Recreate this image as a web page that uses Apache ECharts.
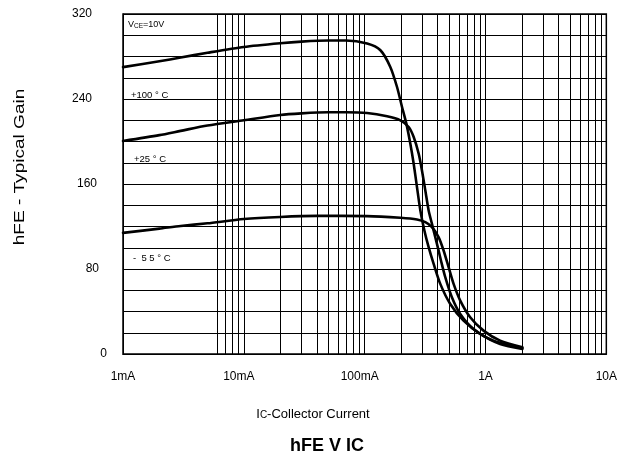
<!DOCTYPE html>
<html>
<head>
<meta charset="utf-8">
<script src="https://cdn.jsdelivr.net/npm/echarts@6/dist/echarts.min.js"></script>
<style>
html,body{margin:0;padding:0;background:#fff;}
#chart{width:620px;height:461px;}
</style>
</head>
<body>
<div id="chart"></div>
<script>
// ---- data ----
const xTickValues = [0.001, 0.01, 0.1, 1, 10];
const xTickLabels = ['1mA', '10mA', '100mA', '1A', '10A'];
const yTickLabels = [0, 80, 160, 240, 320];
const minorGridX = [0.006, 0.007, 0.008, 0.009,
  0.02, 0.03, 0.04, 0.05, 0.06, 0.07, 0.08, 0.09,
  0.2, 0.3, 0.4, 0.5, 0.6, 0.7, 0.8, 0.9,
  2, 3, 4, 5, 6, 7, 8, 9];

// +100 °C
const curr100 = [0.001, 0.002, 0.003, 0.005, 0.01, 0.02, 0.03, 0.05, 0.07, 0.1047, 0.135, 0.163, 0.1853, 0.2038, 0.2213, 0.2388, 0.2545, 0.271, 0.289, 0.312, 0.3384, 0.3723, 0.4225, 0.5108, 0.6583, 0.9036, 1.321, 2.02];
const hfe100  = [270, 275.5, 279, 283.5, 289, 292.5, 294, 295, 295, 292.2, 285.9, 270.2, 251.3, 232.5, 216.8, 197.9, 179.1, 157.1, 135.1, 116.2, 100.5, 84.8, 66, 47.1, 31.4, 18.9, 9.4, 4.7];

// +25 °C
const curr25 = [0.001, 0.002, 0.003, 0.005, 0.01, 0.02, 0.03, 0.05, 0.07, 0.1047, 0.1533, 0.1975, 0.2313, 0.2545, 0.28, 0.298, 0.3177, 0.3384, 0.3605, 0.3965, 0.428, 0.4645, 0.527, 0.618, 0.796, 1.164, 2.02];
const hfe25  = [200.5, 206, 210, 215, 220, 225, 226.5, 227.5, 227.5, 226.8, 223.7, 219.9, 213.6, 204.2, 188.5, 172.8, 153.9, 135.1, 122.5, 103.7, 88, 72.3, 53.4, 37.7, 23.6, 12.6, 5.7];

// -55 °C
const currM55 = [0.001, 0.002, 0.003, 0.005, 0.01, 0.02, 0.04, 0.1047, 0.1975, 0.271, 0.3177, 0.3605, 0.409, 0.45, 0.495, 0.5445, 0.618, 0.747, 0.963, 1.321, 2.02];
const hfeM55  = [114, 118, 120.5, 123, 127, 129, 130, 129.8, 128.2, 126.6, 124.1, 119.4, 110, 97.4, 81.7, 66, 50.3, 34.6, 22, 12.6, 6.3];

const seriesNames = ['+100 °C', '+25 °C', '-55 °C'];

function pairs(xs, ys) { return xs.map((x, i) => [x, ys[i]]); }

const FONT = '"Liberation Sans", Arial, sans-serif';
const chart = echarts.init(document.getElementById('chart'), null, {renderer: 'canvas'});

const yPad = {320: 15, 240: 15, 160: 10, 80: 8, 0: 0};
const yRich = {};
yTickLabels.forEach(v => { yRich['y' + v] = {padding: [0, yPad[v], 0, 0], fontSize: 12, color: '#000', fontFamily: FONT}; });

const xPad = [0, 10, 10, 0, 0];
const xRich = {};
xTickLabels.forEach((l, i) => { xRich['x' + i] = {padding: [0, xPad[i], 0, 0], fontSize: 12, color: '#000', fontFamily: FONT}; });

const lineStyle = {color: '#000', width: 2.6, cap: 'round', join: 'round'};
function mkSeries(name, xs, ys) {
  return {
    name: name, type: 'line', data: pairs(xs, ys), smooth: 0.25,
    showSymbol: false, symbol: 'none', lineStyle: lineStyle, silent: true, z: 5
  };
}

const option = {
  animation: false,
  backgroundColor: '#fff',
  grid: {left: 123, top: 14, width: 487, height: 340, show: true, borderColor: '#000', borderWidth: 1.5},
  xAxis: {
    type: 'log', logBase: 10, min: 0.001, max: 10,
    axisLine: {show: true, lineStyle: {color: '#000', width: 1}},
    axisTick: {show: false},
    splitLine: {show: true, lineStyle: {color: '#000', width: 1}},
    axisLabel: {
      margin: 17, color: '#000', fontSize: 12, fontFamily: FONT,
      formatter: function (v) {
        const i = xTickValues.findIndex(t => Math.abs(Math.log10(t) - Math.log10(v)) < 1e-6);
        return i >= 0 ? '{x' + i + '|' + xTickLabels[i] + '}' : '';
      },
      rich: xRich
    }
  },
  yAxis: {
    type: 'value', min: 0, max: 320, interval: 20,
    axisLine: {show: true, lineStyle: {color: '#000', width: 1}},
    axisTick: {show: false},
    splitLine: {show: true, lineStyle: {color: '#000', width: 1}},
    axisLabel: {
      margin: 16, color: '#000', fontSize: 12, fontFamily: FONT,
      formatter: function (v) {
        return yTickLabels.indexOf(v) >= 0 ? '{y' + v + '|' + v + '}' : '';
      },
      rich: yRich
    }
  },
  series: [
    {
      type: 'custom', silent: true, z: 1,
      data: minorGridX.map(v => [v]),
      renderItem: function (params, api) {
        const v = api.value(0);
        const p0 = api.coord([v, 0]);
        const p1 = api.coord([v, 320]);
        const x = Math.round(p0[0]) + 0.5;
        return {type: 'line', shape: {x1: x, y1: p0[1], x2: x, y2: p1[1]}, style: {stroke: '#000', lineWidth: 1}};
      }
    },
    mkSeries(seriesNames[0], curr100, hfe100),
    mkSeries(seriesNames[1], curr25, hfe25),
    mkSeries(seriesNames[2], currM55, hfeM55)
  ],
  graphic: [
    {type: 'text', x: 128, y: 25, style: {
      text: '{a|V}{b|CE}{a|=10V}', verticalAlign: 'middle', align: 'left',
      rich: {a: {fontSize: 9, fontFamily: FONT, fill: '#000', color: '#000'}, b: {fontSize: 6.5, fontFamily: FONT, fill: '#000', color: '#000', padding: [2, 0, 0, 0]}}
    }},
    {type: 'text', x: 131, y: 95, style: {text: '+100 ° C', font: '9.5px ' + FONT, fill: '#000', verticalAlign: 'middle', align: 'left'}},
    {type: 'text', x: 134, y: 159, style: {text: '+25 ° C', font: '9.5px ' + FONT, fill: '#000', verticalAlign: 'middle', align: 'left'}},
    {type: 'text', x: 133, y: 258, style: {text: '-  5 5 ° C', font: '9.5px ' + FONT, fill: '#000', verticalAlign: 'middle', align: 'left'}},
    {type: 'text', x: 19.5, y: 167, rotation: Math.PI / 2, scaleX: 1.27, style: {text: 'hFE - Typical Gain', font: '15px ' + FONT, fill: '#000', verticalAlign: 'middle', align: 'center'}},
    {type: 'text', x: 313, y: 414, style: {
      text: '{a|I}{b|C}{a|-Collector Current}', verticalAlign: 'middle', align: 'center',
      rich: {a: {fontSize: 13, fontFamily: FONT, fill: '#000', color: '#000'}, b: {fontSize: 10, fontFamily: FONT, fill: '#000', color: '#000', padding: [2, 0, 0, 0]}}
    }},
    {type: 'text', x: 327, y: 446, style: {text: 'hFE V IC', font: 'bold 18px ' + FONT, fill: '#000', verticalAlign: 'middle', align: 'center'}}
  ]
};
chart.setOption(option);
</script>
</body>
</html>
